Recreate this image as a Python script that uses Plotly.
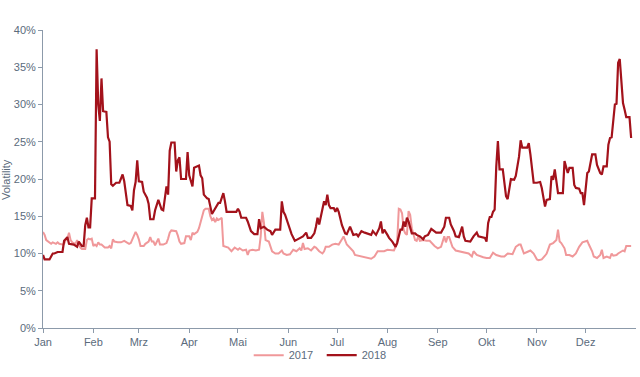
import plotly.graph_objects as go

# 2017 series (day-of-year shown on a common calendar), volatility in %
dates_2017 = [
    "01-01", "01-02", "01-03", "01-05", "01-06", "01-07", "01-09", "01-10", "01-11", "01-13",
    "01-14", "01-15", "01-16", "01-17", "01-18", "01-19", "01-21", "01-22", "01-23", "01-24",
    "01-25", "01-27", "01-28", "01-29", "01-30", "01-31", "02-01", "02-02", "02-03", "02-04",
    "02-05", "02-06", "02-08", "02-10", "02-11", "02-12", "02-13", "02-14", "02-16", "02-18",
    "02-20", "02-21", "02-23", "02-24", "02-25", "02-27", "02-28", "03-01", "03-02", "03-04",
    "03-05", "03-07", "03-08", "03-09", "03-10", "03-11", "03-13", "03-14", "03-16", "03-18",
    "03-19", "03-20", "03-21", "03-24", "03-25", "03-26", "03-27", "03-29", "03-30", "04-01",
    "04-02", "04-03", "04-04", "04-06", "04-07", "04-09", "04-10", "04-11", "04-13", "04-14",
    "04-15", "04-16", "04-17", "04-18", "04-19", "04-21", "04-22", "04-25", "04-27", "04-29",
    "05-01", "05-02", "05-04", "05-06", "05-07", "05-08", "05-10", "05-12", "05-14", "05-15",
    "05-16", "05-17", "05-18", "05-20", "05-21", "05-22", "05-24", "05-26", "05-28", "05-29",
    "05-31", "06-02", "06-04", "06-06", "06-08", "06-09", "06-10", "06-11", "06-13", "06-15",
    "06-17", "06-18", "06-20", "06-22", "06-23", "06-24", "06-26", "06-28", "06-30", "07-02",
    "07-04", "07-05", "07-07", "07-09", "07-11", "07-12", "07-14", "07-16", "07-18", "07-20",
    "07-22", "07-24", "07-26", "07-28", "07-30", "08-01", "08-03", "08-05", "08-06", "08-07",
    "08-08", "08-09", "08-10", "08-11", "08-12", "08-13", "08-14", "08-15", "08-16", "08-18",
    "08-19", "08-20", "08-21", "08-23", "08-25", "08-27", "08-30", "09-01", "09-03", "09-05",
    "09-06", "09-07", "09-08", "09-10", "09-12", "09-14", "09-16", "09-18", "09-20", "09-22",
    "09-23", "09-25", "09-27", "09-29", "10-01", "10-03", "10-05", "10-07", "10-10", "10-12",
    "10-14", "10-16", "10-17", "10-19", "10-21", "10-22", "10-24", "10-26", "10-28", "10-30",
    "11-01", "11-02", "11-04", "11-06", "11-07", "11-09", "11-11", "11-13", "11-14", "11-15",
    "11-16", "11-18", "11-19", "11-21", "11-23", "11-25", "11-27", "11-29", "12-01", "12-02",
    "12-03", "12-05", "12-06", "12-08", "12-10", "12-11", "12-12", "12-14", "12-16", "12-17",
    "12-18", "12-20", "12-21", "12-23", "12-24", "12-25", "12-26", "12-28", "12-29",
]
vol_2017 = [
    12.9, 12.5, 11.8, 11.5, 11.3, 11.5, 11.3, 11.5, 11.3, 11.2,
    11.3, 11.8, 12.0, 12.8, 11.8, 11.5, 11.3, 11.8, 11.3, 10.8,
    10.6, 10.6, 11.8, 12.0, 11.9, 12.0, 11.0, 11.2, 11.0, 11.5,
    11.2, 11.2, 10.8, 10.8, 11.0, 10.7, 11.9, 11.6, 11.5, 11.5,
    11.7, 11.6, 11.3, 11.4, 11.9, 12.9, 12.5, 11.9, 11.0, 11.0,
    11.3, 11.6, 12.2, 11.6, 11.6, 11.1, 12.0, 11.2, 11.2, 11.4,
    12.0, 12.8, 13.1, 13.0, 12.4, 11.6, 11.3, 11.4, 12.3, 12.3,
    11.8, 12.8, 12.6, 12.9, 13.4, 15.0, 15.8, 16.0, 16.0, 15.0,
    14.5, 14.7, 14.2, 14.7, 14.5, 14.8, 11.0, 10.8, 10.3, 10.8,
    10.5, 10.7, 10.4, 10.5, 9.8, 10.4, 10.5, 10.4, 10.5, 12.3,
    15.6, 14.1, 11.8, 11.6, 10.9, 10.3, 10.0, 10.0, 10.4, 10.0,
    9.8, 9.9, 10.5, 10.3, 10.7, 10.4, 11.4, 10.6, 10.7, 10.4,
    10.9, 10.8, 10.3, 10.0, 10.3, 10.9, 10.9, 11.2, 11.3, 11.2,
    11.9, 12.3, 11.2, 10.7, 10.3, 9.8, 9.7, 9.6, 9.5, 9.3,
    9.3, 9.6, 10.3, 10.3, 10.3, 10.5, 10.5, 10.4, 10.9, 11.6,
    16.0, 15.9, 15.4, 13.2, 12.7, 12.5, 15.7, 15.2, 13.4, 11.8,
    11.7, 12.3, 11.7, 11.8, 11.7, 11.7, 11.0, 10.7, 10.9, 12.3,
    11.5, 12.2, 12.2, 10.9, 10.4, 10.3, 10.2, 10.2, 10.0, 9.6,
    10.3, 9.8, 9.6, 9.5, 9.4, 9.4, 10.1, 9.8, 9.6, 9.6,
    10.0, 10.0, 9.9, 10.9, 11.2, 11.2, 10.0, 10.2, 10.4, 10.0,
    9.2, 9.1, 9.2, 9.7, 10.0, 11.2, 11.4, 11.8, 13.2, 11.6,
    11.4, 10.7, 9.8, 9.8, 9.6, 10.0, 10.9, 11.5, 11.6, 11.7,
    11.2, 10.3, 9.6, 9.4, 9.8, 10.5, 9.4, 9.6, 9.4, 10.0,
    9.7, 9.8, 10.0, 10.2, 10.4, 10.3, 11.0, 11.0, 11.0,
]

# 2018 series
dates_2018 = [
    "01-01", "01-02", "01-05", "01-07", "01-08", "01-10", "01-13", "01-14", "01-16", "01-17",
    "01-20", "01-22", "01-23", "01-25", "01-26", "01-27", "01-28", "01-29", "01-30", "01-31",
    "02-02", "02-03", "02-04", "02-05", "02-06", "02-07", "02-09", "02-10", "02-11", "02-12",
    "02-13", "02-15", "02-17", "02-19", "02-20", "02-22", "02-24", "02-25", "02-26", "02-27",
    "02-28", "03-01", "03-03", "03-04", "03-06", "03-07", "03-08", "03-10", "03-11", "03-13",
    "03-15", "03-16", "03-18", "03-19", "03-20", "03-21", "03-23", "03-24", "03-25", "03-26",
    "03-27", "03-30", "03-31", "04-01", "04-03", "04-04", "04-07", "04-08", "04-09", "04-10",
    "04-12", "04-13", "04-15", "04-16", "04-17", "04-19", "04-20", "04-22", "04-23", "04-24",
    "04-27", "04-30", "05-01", "05-02", "05-03", "05-06", "05-07", "05-08", "05-09", "05-11",
    "05-13", "05-14", "05-15", "05-17", "05-19", "05-21", "05-22", "05-24", "05-27", "05-28",
    "05-29", "05-30", "05-31", "06-02", "06-03", "06-05", "06-07", "06-09", "06-10", "06-12",
    "06-13", "06-15", "06-17", "06-18", "06-19", "06-20", "06-21", "06-23", "06-24", "06-25",
    "06-26", "06-27", "06-29", "06-30", "07-01", "07-02", "07-04", "07-06", "07-07", "07-09",
    "07-11", "07-13", "07-14", "07-16", "07-18", "07-20", "07-22", "07-23", "07-25", "07-27",
    "07-28", "07-29", "07-30", "08-01", "08-02", "08-04", "08-06", "08-07", "08-09", "08-10",
    "08-11", "08-12", "08-13", "08-14", "08-15", "08-16", "08-18", "08-19", "08-21", "08-23",
    "08-24", "08-26", "08-28", "08-31", "09-03", "09-05", "09-06", "09-08", "09-09", "09-11",
    "09-12", "09-14", "09-16", "09-17", "09-18", "09-20", "09-21", "09-23", "09-25", "09-26",
    "09-28", "09-30", "10-01", "10-02", "10-03", "10-04", "10-05", "10-06", "10-07", "10-08",
    "10-09", "10-11", "10-13", "10-14", "10-16", "10-18", "10-19", "10-21", "10-22", "10-23",
    "10-26", "10-27", "10-28", "10-30", "11-01", "11-03", "11-04", "11-06", "11-07", "11-09",
    "11-10", "11-11", "11-12", "11-13", "11-14", "11-17", "11-18", "11-20", "11-21", "11-23",
    "11-24", "11-25", "11-27", "11-28", "11-29", "11-30", "12-02", "12-03", "12-05", "12-07",
    "12-08", "12-10", "12-11", "12-12", "12-14", "12-15", "12-16", "12-17", "12-18", "12-19",
    "12-20", "12-21", "12-22", "12-24", "12-25", "12-26", "12-28", "12-29",
]
vol_2018 = [
    9.8, 9.2, 9.2, 10.0, 10.0, 10.2, 10.2, 11.7, 12.2, 11.3,
    11.2, 10.9, 11.6, 11.0, 11.0, 13.8, 14.8, 13.5, 13.5, 17.4,
    17.4, 37.4, 30.0, 27.8, 33.5, 29.1, 29.0, 25.6, 25.0, 19.3,
    19.1, 19.5, 19.5, 20.6, 19.7, 16.5, 16.4, 15.8, 18.5, 19.6,
    22.5, 19.7, 19.6, 18.3, 17.5, 16.7, 14.6, 14.6, 15.8, 17.2,
    15.9, 15.8, 19.0, 17.9, 23.8, 24.9, 24.9, 21.0, 22.5, 22.9,
    20.0, 20.0, 23.6, 20.5, 19.0, 21.5, 21.8, 20.5, 20.1, 17.9,
    17.4, 17.3, 15.3, 15.7, 16.2, 16.8, 16.8, 18.1, 17.0, 15.6,
    15.6, 15.6, 16.0, 15.6, 14.8, 14.8, 14.3, 13.6, 13.0, 12.6,
    12.6, 14.6, 13.4, 13.6, 13.2, 13.0, 12.5, 13.2, 13.2, 17.0,
    15.6, 15.2, 14.5, 13.2, 12.6, 11.7, 11.9, 12.1, 12.3, 12.8,
    12.1, 12.1, 12.7, 13.6, 14.8, 13.9, 14.8, 17.0, 16.5, 17.9,
    16.5, 16.1, 16.1, 15.6, 16.1, 15.6, 13.8, 12.7, 12.6, 13.6,
    12.5, 12.6, 12.3, 13.0, 12.8, 12.7, 12.5, 13.0, 12.5, 13.4,
    14.3, 12.7, 13.2, 12.5, 12.1, 11.6, 10.9, 11.4, 13.2, 13.2,
    14.3, 13.6, 14.8, 14.3, 13.6, 12.7, 12.7, 12.5, 12.3, 11.9,
    12.3, 12.5, 13.3, 12.8, 12.8, 13.6, 14.8, 14.8, 13.9, 13.0,
    12.3, 12.2, 13.6, 12.3, 11.7, 11.6, 11.6, 12.3, 12.8, 12.3,
    12.2, 12.1, 11.6, 14.1, 14.9, 14.9, 15.6, 15.9, 21.7, 25.1,
    21.3, 21.3, 17.7, 17.3, 20.0, 19.9, 20.4, 23.0, 25.2, 24.2,
    24.2, 24.8, 23.3, 19.5, 19.5, 19.6, 18.8, 16.3, 17.2, 17.3,
    20.4, 19.9, 21.3, 19.7, 18.1, 18.1, 22.4, 20.8, 21.5, 21.5,
    19.2, 18.8, 18.7, 18.1, 18.1, 16.5, 20.8, 21.0, 23.3, 23.3,
    21.9, 20.8, 20.6, 21.7, 21.7, 24.6, 25.5, 25.6, 28.4, 30.0,
    30.1, 35.6, 36.1, 30.2, 29.3, 28.3, 28.3, 25.5,
]

month_ticks = ["2018-01-01", "2018-02-01", "2018-03-01", "2018-04-01", "2018-05-01", "2018-06-01",
               "2018-07-01", "2018-08-01", "2018-09-01", "2018-10-01", "2018-11-01", "2018-12-01"]
month_labels = ["Jan", "Feb", "Mrz", "Apr", "Mai", "Jun", "Jul", "Aug", "Sep", "Okt", "Nov", "Dez"]
y_ticks = [0, 5, 10, 15, 20, 25, 30, 35, 40]

axis_col = "#8c9aaa"
text_col = "#5b6b7c"

fig = go.Figure()
fig.add_trace(go.Scatter(
    x=["2018-" + d for d in dates_2017], y=vol_2017, name="2017", mode="lines",
    line=dict(color="#f0989a", width=2),
))
fig.add_trace(go.Scatter(
    x=["2018-" + d for d in dates_2018], y=vol_2018, name="2018", mode="lines",
    line=dict(color="#a3121b", width=2.2),
))

fig.update_layout(
    width=640, height=377,
    margin=dict(l=43, r=4, t=30, b=49, autoexpand=False),
    paper_bgcolor="white", plot_bgcolor="white",
    font=dict(family="Liberation Sans, Arial, sans-serif", size=11, color=text_col),
    showlegend=True,
    legend=dict(orientation="h", x=0.47, xanchor="center", yref="container", y=0.058,
                yanchor="middle", bgcolor="rgba(0,0,0,0)",
                entrywidth=28, entrywidthmode="pixels",
                font=dict(size=11, color=text_col), itemwidth=30, tracegroupgap=0),
    xaxis=dict(
        type="date", range=["2018-01-01", "2019-01-01"], automargin=False,
        tickvals=month_ticks, ticktext=month_labels,
        showgrid=False, zeroline=False,
        showline=True, linecolor=axis_col, linewidth=1,
        ticks="outside", ticklen=4, tickcolor=axis_col,
        tickfont=dict(size=11, color=text_col),
    ),
    yaxis=dict(
        range=[0, 40], tickvals=y_ticks, ticktext=[f"{v}%" for v in y_ticks],
        automargin=False,
        showgrid=False, zeroline=False,
        showline=True, linecolor=axis_col, linewidth=1,
        ticks="outside", ticklen=4, tickcolor=axis_col,
        tickfont=dict(size=11, color=text_col),
    ),
    annotations=[dict(
        text="Volatility", textangle=-90, xref="paper", yref="paper",
        x=-0.0624, y=0.5, xanchor="center", yanchor="middle", showarrow=False,
        font=dict(size=11, color=text_col),
    )],
)

fig.write_html("out.html", config={"displayModeBar": False},
               post_script="document.body.style.margin='0';")
